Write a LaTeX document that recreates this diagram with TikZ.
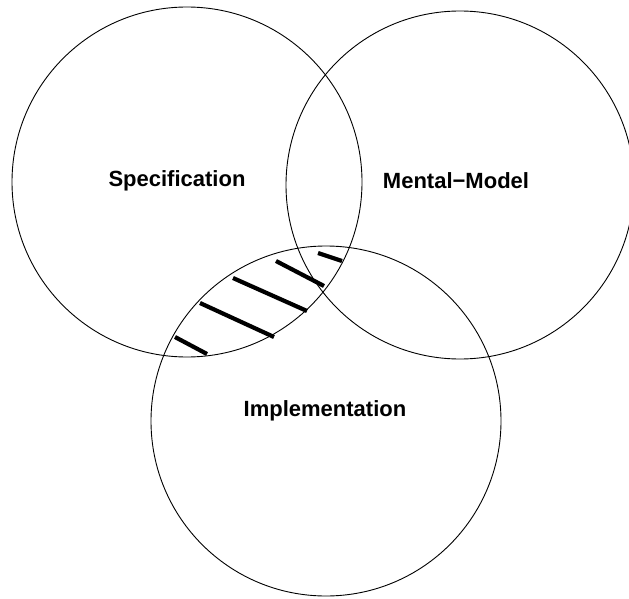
\documentclass[tikz,border=0pt]{standalone}
\usepackage{fontspec}
\setmainfont{Liberation Sans}
\tikzset{setcircle/.style={draw=black,line width=0.9pt}}
\tikzset{setlabel/.style={font=\bfseries\fontsize{22}{26}\selectfont}}
\tikzset{hatchline/.style={draw=black,line width=4.2pt}}
\begin{document}
\begin{tikzpicture}[x=1pt,y=-1pt]
            \useasboundingbox (0,0) rectangle (629,599);
            \coordinate (spec) at (187,182);
            \coordinate (mental) at (460,185);
            \coordinate (impl) at (326,421);
            \draw[setcircle] (spec) circle (175pt);
            \draw[setcircle] (mental) circle (174pt);
            \draw[setcircle] (impl) circle (175pt);
            \node[setlabel] (speclabel) at (177,181) {Specification};
            \node[setlabel] (mentallabel) at (456,181) {Mental−Model};
            \node[setlabel] (impllabel) at (325,411) {Implementation};
            \foreach \xa/\ya/\xb/\yb in {175/337/207/354, 200/303/274/337, 233/278/307/311, 276/261/324/286, 318/253/342/261}
            \draw[hatchline] (\xa,\ya) -- (\xb,\yb);
            \end{tikzpicture}
\end{document}
